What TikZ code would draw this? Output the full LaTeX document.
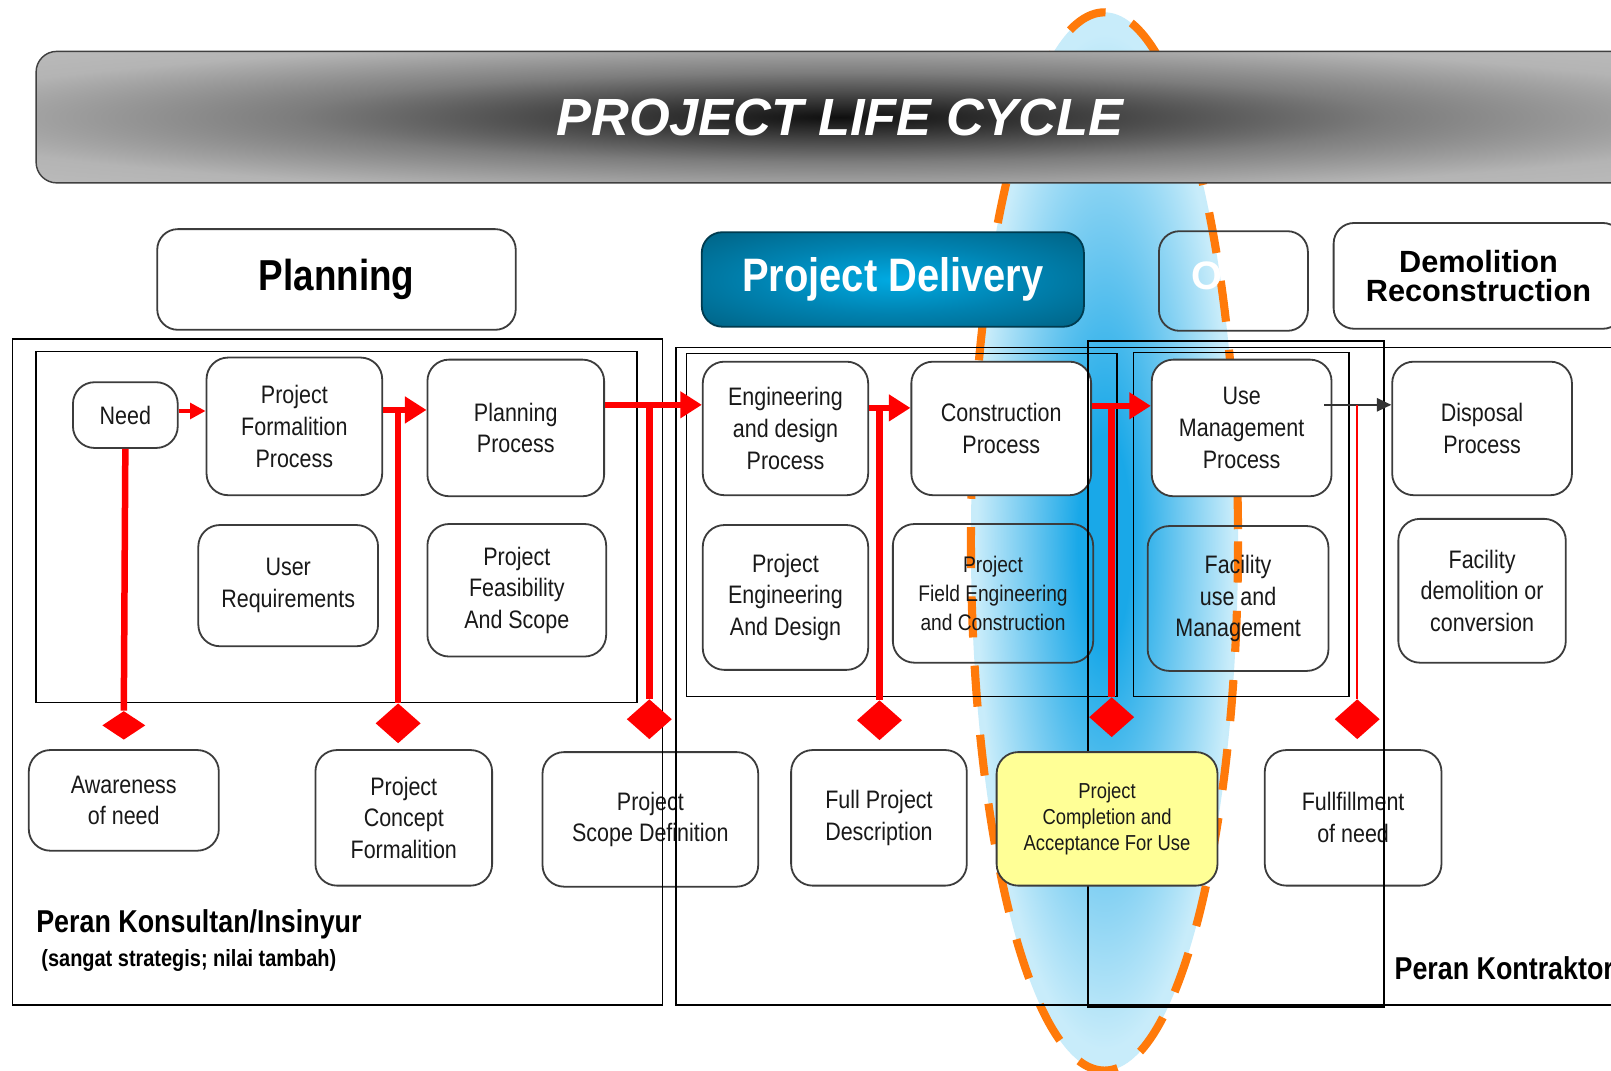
\documentclass[tikz,border=0pt]{standalone}
\usepackage{fontspec}
\setmainfont[FakeStretch=0.85]{Liberation Sans}
\newfontfamily\widefont{Liberation Sans}
\usetikzlibrary{shapes.geometric,arrows.meta,calc}

\definecolor{lenslight}{RGB}{200,236,250}
\definecolor{lensmid}{RGB}{110,200,240}
\definecolor{lensdark}{RGB}{25,168,232}
\definecolor{dashorange}{RGB}{255,122,10}
\definecolor{boxline}{RGB}{60,60,60}
\definecolor{pdbright}{RGB}{0,170,226}
\definecolor{pdmid}{RGB}{0,130,176}
\definecolor{pddark}{RGB}{0,98,132}
\definecolor{notepaper}{RGB}{255,255,150}
\definecolor{arrowred}{RGB}{255,0,0}
\definecolor{bandA}{RGB}{15,15,15}
\definecolor{bandB}{RGB}{60,60,60}
\definecolor{bandC}{RGB}{125,125,125}
\definecolor{bandD}{RGB}{180,180,180}
\definecolor{bandE}{RGB}{200,200,200}

\pgfdeclareradialshading{lensshade}{\pgfpointorigin}{color(0bp)=(lensdark); color(5bp)=(lensdark); color(14bp)=(lensmid); color(24bp)=(lenslight); color(50bp)=(lenslight)}
\pgfdeclareradialshading{bandshade}{\pgfpointorigin}{color(0bp)=(bandA); color(7bp)=(bandB); color(17bp)=(bandC); color(29bp)=(bandD); color(50bp)=(bandE)}
\pgfdeclareradialshading{pdshade}{\pgfpointorigin}{color(0bp)=(pdbright); color(18bp)=(pdmid); color(36bp)=(pddark); color(50bp)=(pddark)}

\tikzset{
  band/.style={shade, shading=bandshade, draw=black!75, line width=0.8pt, rounded corners=0.4cm,
    text=white, font=\widefont\bfseries\itshape\fontsize{29}{29}\selectfont},
  phasebox/.style={draw=boxline, line width=1pt, fill=white, rounded corners=0.4cm, align=center,
    font=\bfseries\fontsize{24}{24}\selectfont},
  procbox/.style={draw=boxline, line width=1pt, fill=white, rounded corners=0.42cm, align=center,
    text=black!90, font=\fontsize{14}{17.6}\selectfont},
  openbox/.style={procbox, fill=none},
  frame/.style={draw=black, line width=0.8pt},
  redarrow/.style={draw=arrowred, line width=3.2pt, -{Triangle[length=0.42cm,width=0.5cm]}},
  smallarrow/.style={draw=arrowred, line width=2.6pt, -{Triangle[length=0.3cm,width=0.3cm]}},
  redstem/.style={draw=arrowred, line width=3.6pt},
  thinstem/.style={draw=arrowred, line width=0.9pt},
  keydiamond/.style={diamond, fill=arrowred, inner sep=0pt, minimum width=0.88cm, minimum height=0.78cm},
  rolelabel/.style={anchor=west, inner sep=0pt, font=\bfseries\fontsize{17.5}{20}\selectfont}
}

\begin{document}
\begin{tikzpicture}[x=0.02cm,y=-0.02cm]
  \useasboundingbox (0,0) rectangle (1568,1042);
  \clip (0,0) rectangle (1568,1042);
  \fill[white] (0,0) rectangle (1568,1042);

  % the handover lens
  \path[shade, shading=lensshade, draw=dashorange, line width=4.5pt, dash pattern=on 0.8cm off 0.55cm]
    (1075,527) ellipse [x radius=130, y radius=515];

  % title band
  \node[band, minimum width=31.3cm, minimum height=2.56cm] (band) at (817.5,114) {PROJECT LIFE CYCLE};

  % phases
  \node[phasebox, minimum width=6.98cm, minimum height=1.96cm] (planning) at (327.5,272) {Planning};
  \node[phasebox, shade, shading=pdshade, draw=pddark!60!black, text=white,
    font=\bfseries\fontsize{26}{26}\selectfont, minimum width=7.44cm, minimum height=1.84cm] (delivery) at (869,272) {Project Delivery};
  \node[phasebox, fill=none, minimum width=2.9cm, minimum height=1.94cm] (usephase) at (1200.5,273.5) {};
  \node[text=white, font=\widefont\bfseries\fontsize{22}{22}\selectfont] (usephaseO) at (1175,268) {O};
  \node[phasebox, font=\widefont\bfseries\fontsize{17}{16}\selectfont, minimum width=5.64cm, minimum height=2.06cm] (demolition) at (1439,268.5) {Demolition\\Reconstruction};

  % planning processes
  \node[procbox, minimum width=2.04cm, minimum height=1.28cm] (need) at (122,404) {Need};
  \node[procbox, minimum width=3.42cm, minimum height=2.68cm] (pfp) at (286.5,415) {Project\\Formalition\\Process};
  \node[procbox, minimum width=3.44cm, minimum height=2.66cm] (pp) at (502,416.5) {Planning\\Process};
  \node[procbox, minimum width=3.5cm, minimum height=2.36cm] (ur) at (280.5,570) {User\\Requirements};
  \node[procbox, minimum width=3.48cm, minimum height=2.58cm] (pfs) at (503,574.5) {Project\\Feasibility\\And Scope};

  % delivery processes
  \node[procbox, minimum width=3.22cm, minimum height=2.6cm] (edp) at (764.5,417) {Engineering\\and design\\Process};
  \node[procbox, minimum width=3.5cm, minimum height=2.6cm] (cp) at (974.5,417) {Construction\\Process};
  \node[procbox, minimum width=3.22cm, minimum height=2.82cm] (ped) at (764.5,581.5) {Project\\Engineering\\And Design};
  \node[openbox, font=\fontsize{12.5}{15.9}\selectfont, minimum width=3.9cm, minimum height=2.7cm] (fec) at (966.5,577.5) {Project\\Field Engineering\\and Construction};

  % use and disposal
  \node[procbox, minimum width=3.5cm, minimum height=2.66cm] (ump) at (1208.5,416.5) {Use\\Management\\Process};
  \node[openbox, minimum width=3.52cm, minimum height=2.82cm] (fum) at (1205,582.5) {Facility\\use and\\Management};
  \node[procbox, minimum width=3.5cm, minimum height=2.6cm] (dp) at (1442.5,417) {Disposal\\Process};
  \node[procbox, minimum width=3.26cm, minimum height=2.8cm] (fdc) at (1442.5,575) {Facility\\demolition or\\conversion};

  % outputs
  \node[procbox, minimum width=3.7cm, minimum height=1.96cm] (an) at (120.5,779) {Awareness\\of need};
  \node[procbox, minimum width=3.44cm, minimum height=2.64cm] (pcf) at (393,796) {Project\\Concept\\Formalition};
  \node[procbox, minimum width=4.2cm, minimum height=2.62cm] (psd) at (633,797.5) {Project\\Scope Definition};
  \node[procbox, minimum width=3.42cm, minimum height=2.64cm] (fpd) at (855.5,796) {Full Project\\Description};
  \node[procbox, minimum width=3.44cm, minimum height=2.64cm] (fn) at (1317,796) {Fullfillment\\of need};

  % frames
  \draw[frame] (12,330) rectangle (645,978);
  \draw[frame] (35,342) rectangle (620,684);
  \draw[frame] (658,338) rectangle (1620,978);
  \draw[frame] (668,344) rectangle (1087,678);
  \draw[frame] (1059,332) rectangle (1347,980);
  \draw[frame] (1103,343) rectangle (1313,678);

  \node[procbox, fill=notepaper, font=\fontsize{12}{14.2}\selectfont, minimum width=4.3cm, minimum height=2.6cm] (pca) at (1077.5,797) {Project\\Completion and\\Acceptance For Use};

  % milestones
  \node[keydiamond, minimum width=0.84cm, minimum height=0.56cm] (dneed) at (120.5,706) {};
  \node[keydiamond] (dpfp) at (387.5,704) {};
  \node[keydiamond] (dpp) at (632,700) {};
  \node[keydiamond] (dedp) at (856,701) {};
  \node[keydiamond] (dcp) at (1082,698) {};
  \node[keydiamond] (dump) at (1321,700) {};

  % flow
  \coordinate (aneed) at ([yshift=0.08cm]need.east);
  \coordinate (apfp) at ([yshift=0.32cm]pfp.east);
  \coordinate (app) at ([yshift=0.45cm]pp.east);
  \coordinate (aedp) at ([yshift=0.4cm]edp.east);
  \coordinate (acp) at ([yshift=0.44cm]cp.east);
  \coordinate (aump) at ([yshift=0.45cm]ump.east);

  \draw[smallarrow] (aneed) -- (aneed -| pfp.west);
  \draw[redarrow] (apfp) -- (apfp -| pp.west);
  \draw[redarrow] (app) -- (app -| edp.west);
  \draw[redarrow] (aedp) -- (aedp -| cp.west);
  \draw[redarrow] (acp) -- (acp -| ump.west);
  \draw[black!80, line width=0.9pt, -{Triangle[length=0.28cm,width=0.26cm]}] ([xshift=-0.16cm]aump) -- (aump -| dp.west);

  \draw[redstem] (need.south) -- (dneed.north);
  \draw[redstem] (apfp -| dpfp) -- (dpfp.north);
  \draw[redstem] (app -| dpp) -- (dpp.north);
  \draw[redstem] (aedp -| dedp) -- (dedp.north);
  \draw[redstem] (acp -| dcp) -- (dcp.north);
  \draw[thinstem] (aump -| dump) -- (dump.north);

  % roles
  \node[rolelabel] (konsultan) at (35,900) {Peran Konsultan/Insinyur};
  \node[rolelabel, font=\bfseries\fontsize{13}{15}\selectfont] (konsultannote) at (40,935) {(sangat strategis; nilai tambah)};
  \node[rolelabel] (kontraktor) at (1357,942) {Peran Kontraktor};
\end{tikzpicture}
\end{document}
